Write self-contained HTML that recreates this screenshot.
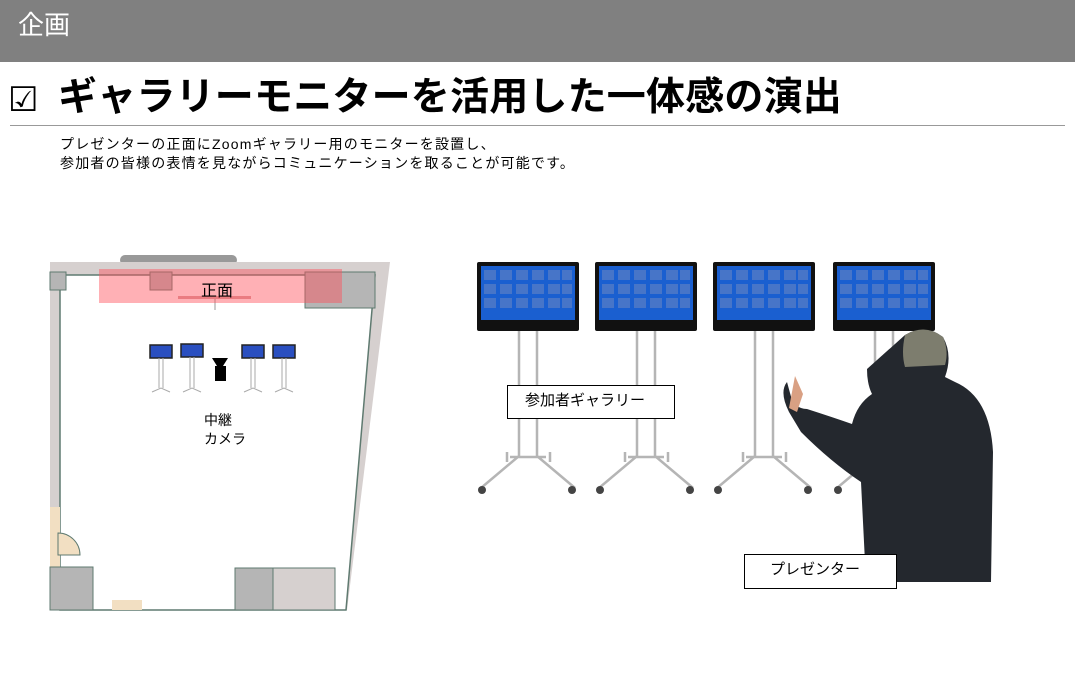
<!DOCTYPE html>
<html><head><meta charset="utf-8"><style>
body{margin:0;width:1075px;height:687px;overflow:hidden;background:#fff;font-family:"Liberation Sans","Noto Sans CJK JP",sans-serif;position:relative}
.a{position:absolute}
</style></head><body>
<div class="a" style="left:0;top:0;width:1075px;height:62px;background:#808080"></div>
<div class="a" style="left:18px;top:8px;color:#fff;font-size:26px;line-height:34px">企画</div>
<div class="a" style="left:8px;top:78px;font-size:34px;line-height:44px">☑</div>
<div class="a" style="left:58px;top:75px;font-size:39px;font-weight:bold;line-height:46px;letter-spacing:0.2px;white-space:nowrap">ギャラリーモニターを活用した一体感の演出</div>
<div class="a" style="left:10px;top:125px;width:1055px;height:1px;background:#999"></div>
<div class="a" style="left:60px;top:135px;font-size:14px;line-height:19px;letter-spacing:1.2px;white-space:nowrap">プレゼンターの正面にZoomギャラリー用のモニターを設置し、<br>参加者の皆様の表情を見ながらコミュニケーションを取ることが可能です。</div>

<svg class="a" style="left:0;top:0" width="1075" height="687">
<rect x="120" y="255" width="117" height="10" rx="5" fill="#999"/>
<polygon points="50,262 390,262 347,610 50,610" fill="#d6d0cf"/>
<polygon points="60,275 375,275 346,610 60,610" fill="#fff" stroke="#5f7a70" stroke-width="1.5"/>
<rect x="50" y="272" width="16" height="18" fill="#b5b5b5" stroke="#5f7a70"/>
<rect x="305" y="272" width="70" height="36" fill="#b5b5b5" stroke="#5f7a70"/>
<rect x="150" y="272" width="22" height="18" fill="#b5b5b5" stroke="#5f7a70"/>
<rect x="50" y="507" width="10" height="60" fill="#f2dfc2"/>
<path d="M58,533 a22,22 0 0 1 22,22 h-22z" fill="#f2dfc2" stroke="#5f7a70"/>
<rect x="50" y="567" width="43" height="43" fill="#b5b5b5" stroke="#5f7a70"/>
<rect x="235" y="568" width="100" height="42" fill="#d6d0cf" stroke="#5f7a70"/>
<rect x="235" y="568" width="38" height="42" fill="#b5b5b5" stroke="#5f7a70"/>
<rect x="112" y="600" width="30" height="10" fill="#f2dfc2"/>
<rect x="178" y="296" width="73" height="3" fill="#d9a0a0"/>
<line x1="215" y1="299" x2="215" y2="310" stroke="#999"/>
<rect x="99" y="269" width="243" height="34" fill="rgba(255,80,90,0.45)"/>
<g fill="#2a4fc0" stroke="#222" stroke-width="1.5">
<rect x="150" y="345" width="22" height="13"/><rect x="181" y="344" width="22" height="13"/>
<rect x="242" y="345" width="22" height="13"/><rect x="273" y="345" width="22" height="13"/>
</g>
<g stroke="#aaa" stroke-width="1" fill="none">
<path d="M159,358v30M163,358v30M152,392l9,-4 9,4M190,357v31M194,357v31M183,392l9,-4 9,4M251,358v30M255,358v30M244,392l9,-4 9,4M282,358v30M286,358v30M275,392l9,-4 9,4"/>
</g>
<polygon points="212,358 228,358 223,366 217,366" fill="#000"/>
<rect x="215" y="366" width="11" height="15" fill="#000"/>
<g>
<g id="m">
<rect x="477" y="262" width="102" height="69" rx="2" fill="#111"/>
<rect x="481" y="266" width="94" height="54" fill="#1a5fd0"/>
<g fill="#5a7fc6" opacity="0.7">
<rect x="484" y="270" width="12" height="10"/><rect x="500" y="270" width="12" height="10"/><rect x="516" y="270" width="12" height="10"/><rect x="532" y="270" width="12" height="10"/><rect x="548" y="270" width="12" height="10"/><rect x="562" y="270" width="10" height="10"/>
<rect x="484" y="284" width="12" height="10"/><rect x="500" y="284" width="12" height="10"/><rect x="516" y="284" width="12" height="10"/><rect x="532" y="284" width="12" height="10"/><rect x="548" y="284" width="12" height="10"/><rect x="562" y="284" width="10" height="10"/>
<rect x="484" y="298" width="12" height="10"/><rect x="500" y="298" width="12" height="10"/><rect x="516" y="298" width="12" height="10"/><rect x="532" y="298" width="12" height="10"/><rect x="548" y="298" width="12" height="10"/><rect x="562" y="298" width="10" height="10"/>
</g>
<g stroke="#b5b5b5" stroke-width="2.5" fill="none">
<path d="M519,331v125M537,331v125M510,457h36M519,456l-38,32M537,456l38,32M507,452v10M550,452v10"/>
</g>
<circle cx="482" cy="490" r="4" fill="#444"/><circle cx="572" cy="490" r="4" fill="#444"/>
</g>
<use href="#m" x="118"/><use href="#m" x="236"/><use href="#m" x="356"/>
</g>
<path d="M905,335 q20,-12 38,2 q10,18 2,40 l10,5 q35,15 38,70 l-2,130 h-125 l-5,-100 q-30,-20 -60,-50 l-12,-20 q-10,-20 -2,-30 l6,22 q8,5 14,5 q25,8 45,15 q5,-20 20,-30 q-5,-10 -5,-25 z" fill="#24282e"/>
<path d="M905,335 q20,-12 38,2 q6,14 2,28 l-40,2 q-4,-14 0,-32z" fill="#7d7d6e"/>
<path d="M795,376 l8,18 l-6,18 l-8,-4z" fill="#d9a083"/>
</svg>

<div class="a" style="left:201px;top:277px;font-size:16px">正面</div>
<div class="a" style="left:204px;top:411px;font-size:14px;line-height:19px">中継<br>カメラ</div>
<div class="a" style="left:507px;top:385px;width:168px;height:34px;border:1px solid #000;background:#fff;font-size:15px;line-height:30px;box-sizing:border-box;padding-left:17px">参加者ギャラリー</div>
<div class="a" style="left:744px;top:554px;width:153px;height:35px;border:1px solid #000;background:#fff;font-size:15px;line-height:30px;box-sizing:border-box;padding-left:25px">プレゼンター</div>
</body></html>
